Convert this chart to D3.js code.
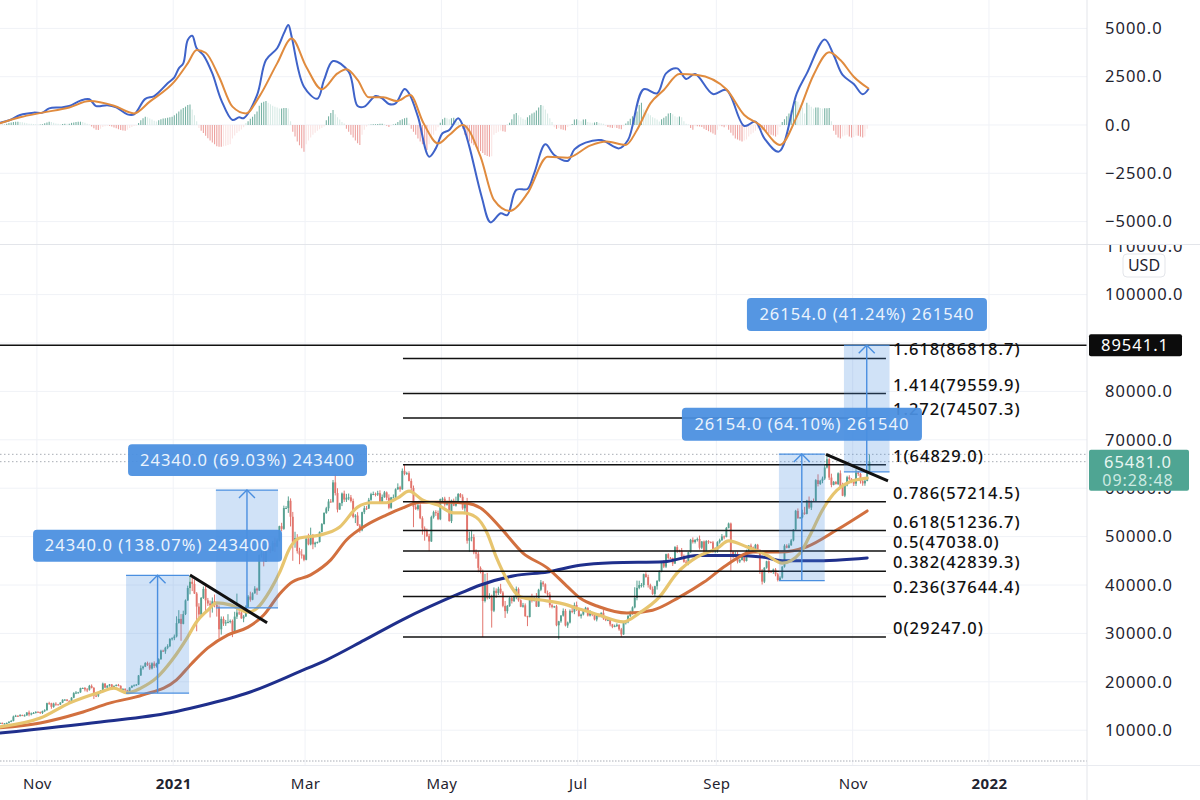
<![CDATA[<!DOCTYPE html>
<html lang="en">
<head>
<meta charset="UTF-8">
<title>BTCUSD daily with MACD and Fibonacci levels</title>
<script src="https://d3js.org/d3.v7.min.js"></script>
<style>
    html, body { margin: 0; padding: 0; background: #fff; }
    svg { display: block; }
    text { font-family: "Noto Sans", sans-serif; }
    .axis text { font-size: 16.5px; letter-spacing: 1px; fill: #1f2430; }
    .axis .domain { display: none; }
    .grid line { stroke: #f0f2f7; stroke-width: 1; }
</style>
</head>
<body>
<svg id="chart" width="1200" height="800"></svg>
<script>
// daily closes in thousand USD, first value is 15 Oct 2020, one line per month
const closeK = [
  11.5,11.32,11.37,11.5,11.75,11.92,12.82,12.98,12.93,13.12,13.03,13.07,13.65,13.27,13.46,13.56,13.8,
  13.76,13.55,13.95,14.13,15.58,15.57,14.83,15.48,15.33,15.3,15.7,16.29,16.32,16.07,15.96,16.72,17.66,17.78,17.82,18.68,18.72,18.42,18.37,19.16,18.73,17.15,17.14,17.72,18.18,19.63,
  18.8,19.2,19.45,18.7,19.15,19.36,19.17,18.32,18.55,18.25,18.04,18.8,19.17,19.27,19.43,21.31,22.8,23.14,23.87,23.48,22.75,23.82,23.24,23.73,24.66,26.44,26.28,27.04,27.36,28.84,29.0,
  29.37,32.13,33.0,31.97,33.99,36.82,39.37,40.67,40.24,38.24,35.54,33.92,37.32,39.19,36.83,36.18,35.79,36.63,35.89,35.47,30.85,33.0,32.05,32.28,32.37,32.57,30.43,33.47,34.32,34.3,33.11,
  33.51,35.5,37.62,36.95,38.29,39.26,38.87,46.2,46.48,44.85,47.97,47.5,47.1,48.7,47.94,49.2,52.15,51.6,55.9,55.9,57.4,54.1,48.9,49.7,47.0,46.3,46.15,45.2,
  49.6,48.4,50.35,48.4,48.75,48.88,50.97,52.6,54.9,55.85,57.25,57.2,61.2,59.0,55.6,56.9,58.9,57.65,58.03,58.1,57.35,54.1,54.34,52.3,51.3,55.05,55.85,55.8,57.6,58.76,58.8,
  58.7,58.97,57.06,58.2,59.13,58.03,55.95,58.1,58.1,59.77,60.2,59.77,63.58,62.97,63.1,61.5,60.05,56.15,55.7,56.47,53.8,51.7,51.15,50.1,49.0,54.02,55.05,54.88,53.6,57.75,
  57.83,56.6,57.2,53.2,57.45,56.4,57.36,58.8,58.23,55.85,56.7,49.15,49.72,49.88,46.76,46.45,43.54,42.9,36.7,40.5,37.3,37.5,34.7,38.8,38.33,39.24,38.44,35.7,34.6,35.68,37.3,
  36.68,37.56,39.19,36.85,35.52,35.8,33.55,33.4,37.39,36.69,37.34,35.55,39.02,40.52,40.14,38.35,38.05,35.82,35.48,35.6,31.68,32.5,33.68,34.66,31.64,32.24,34.65,34.47,35.87,35.04,
  33.57,33.9,34.68,35.29,33.69,34.22,33.86,32.88,33.82,33.51,34.26,33.09,32.73,32.82,31.87,31.38,31.52,31.78,30.84,29.79,32.14,32.31,33.58,34.29,35.38,37.34,39.41,39.99,40.0,42.24,41.63,
  39.97,39.2,38.15,39.75,40.87,42.84,44.61,43.8,46.37,45.59,45.56,44.43,47.83,47.1,47.05,46.0,44.8,44.6,46.77,49.33,48.87,49.29,49.51,47.71,48.99,46.85,49.07,48.9,48.81,47.05,47.16,
  48.85,49.28,50.03,49.94,51.79,52.7,46.86,46.07,46.4,44.85,45.16,46.06,44.96,47.1,48.15,47.75,47.3,48.3,47.26,43.0,40.7,43.57,44.9,42.84,42.7,43.2,42.2,41.03,41.52,43.79,
  48.12,47.68,48.2,49.22,51.47,55.32,53.8,53.97,54.96,54.69,57.48,56.0,57.37,57.35,61.67,60.87,61.53,62.0,64.28,66.0,62.2,60.69,61.3,60.85,63.08,60.33,58.46,60.59,62.27,61.89,61.34,
  60.95,63.23,62.95,61.45,61.0,61.53,63.3,65.48
];
const firstOpenK = 11.43;

// wick above the body, thousand USD
const upperWickK = [
  .1,.1,.1,.1,.1,.2,.2,.2,.1,.2,.1,.2,.1,.4,.2,.2,.1,
  .1,.1,.1,.2,.1,.3,.1,.2,.3,.1,.1,.1,.1,.1,.1,.1,.2,.3,.1,.1,.1,.2,.3,.2,.3,.2,.2,.1,.1,.2,
  .1,.1,.1,.1,.1,.1,.2,.1,.1,.1,.1,.1,.1,.2,.1,.1,.6,.2,.2,.3,.5,.2,.4,.2,.2,.2,.2,.2,.4,.2,.2,
  .4,1.4,1.8,1.0,.7,.2,.5,1.2,.8,.9,.3,.7,.2,.5,.9,.5,.6,.8,1.4,.5,.3,.5,.5,.5,1.6,.3,.3,1.0,3.9,.6,.5,
  .3,.3,.3,1.0,.2,.5,.2,.1,.5,.6,.2,.5,.5,.4,1.1,.4,.1,.7,.5,.4,.9,.5,1.0,1.3,.8,.7,1.1,.2,
  .1,1.0,1.5,.2,.2,.1,.1,.2,.1,.3,.5,.5,.5,1.7,1.0,.1,.2,.6,.8,.8,.5,.5,.3,.7,.3,.1,.5,.5,.4,.3,.5,
  .3,.5,.6,.5,.3,.2,.7,.1,.6,.2,.8,.3,.5,1.25,.3,.4,.5,.5,1.0,.5,.6,.4,.4,.5,.5,.3,.3,.4,.5,.1,
  .3,.4,.2,1.0,.2,.4,.9,.2,.2,.5,.1,1.3,1.3,1.5,.6,.6,.5,.3,.3,1.8,2.0,.8,.5,.7,.5,.4,1.0,.3,1.0,.2,.4,
  .3,.3,.5,.3,.2,.5,.4,.1,.2,.8,.2,1.0,.2,.5,.3,.2,.5,.5,.3,.1,.3,.1,.1,.5,.4,.2,.3,.6,.5,.7,
  .1,.2,.2,.2,.1,.6,.2,.2,.2,.3,.1,.6,.1,.3,.1,.1,.3,.3,.1,.3,.1,.3,.2,.4,.2,2.2,1.5,.9,.4,.1,.4,
  .5,.3,.5,.1,.1,.2,.2,.5,.1,.2,.2,.1,.2,.4,.2,.6,.3,.4,.1,.2,.5,.2,.3,.7,.1,.2,.2,.2,.1,.3,.6,
  .2,.3,.5,.2,.2,.2,.2,.2,.5,.5,.3,.2,.2,.2,.1,.4,.2,.2,.2,.1,.3,.1,.1,.2,.2,.2,.3,.3,.3,.1,
  .3,.3,.4,.3,.1,.2,.5,.1,.6,1.2,.1,.8,.1,.5,.2,1.2,.2,.4,.7,1.0,.2,.8,.2,.2,.2,.6,.8,.3,.3,.4,.2,
  .3,.7,.3,.2,.6,.2,.2,1.5
];
// wick below the body, thousand USD
const lowerWickK = [
  .1,.1,.1,.1,.1,.1,.1,.1,.2,.1,.1,.2,.1,.4,.2,.1,.1,
  .1,.2,.2,.2,.1,.3,.4,.2,.3,.1,.1,.1,.2,.1,.2,.1,.1,.2,.2,.1,.1,.4,.5,.2,.1,.7,.3,.3,.1,.1,
  .1,.1,.2,.1,.1,.1,.1,.1,.1,.2,.5,.1,.1,.1,.1,.1,.1,.3,.1,.2,.3,.2,.4,.3,.1,.1,.1,.5,.3,.2,.3,
  .4,.2,.1,3.5,.1,.2,.1,1.3,1.5,.1,5.1,1.2,.4,.2,2.2,.5,2.5,1.5,.5,2.0,1.9,1.1,.5,.5,.2,.3,1.2,.4,.5,.5,.1,
  .8,.1,.2,.4,.1,.1,.9,.1,.5,1.0,.1,.2,.5,.1,1.1,.1,.2,.5,.2,.2,1.0,2.0,3.9,1.2,.5,2.0,.7,.3,
  .1,.2,.2,1.0,.6,.2,.1,.1,.1,.2,.6,.2,.2,.5,.6,.1,.6,.5,.5,.5,.3,.3,1.3,.1,.5,.2,.4,.3,.1,.2,.2,
  .4,.3,.2,.2,.2,.5,.3,.2,.1,.2,.1,.5,.1,.3,.2,.1,.5,4.2,.2,.3,.2,1.3,2.0,.2,2.0,.1,.3,.6,.2,.2,
  .7,.4,.2,.1,.4,.1,.2,.2,.2,.3,.8,.6,2.3,.7,.4,1.0,.9,.5,7.45,.3,.3,.2,3.5,.3,1.0,.4,.3,.3,1.4,.5,.2,
  .5,.2,.5,.3,.1,.2,.1,1.9,.1,.3,.1,.1,.1,.3,.5,.1,.5,.5,.3,.2,.2,2.9,.3,.2,.2,.5,.2,.3,.5,.4,
  .1,.5,.2,.2,.2,.2,.3,.2,.4,.2,.2,.3,.2,.2,.4,.3,.1,.2,.3,.5,.1,.3,.2,.2,.4,.2,.5,.3,.5,.5,.1,
  .5,.2,.2,.4,.7,.2,.2,.3,.3,.3,.2,.5,.1,.5,.3,.4,.2,.1,.5,.1,.3,.3,.3,.4,.3,.3,.2,.4,.2,.4,.5,
  .5,.3,.2,.5,.1,.1,3.9,.6,.3,.4,.3,.1,.3,.1,.2,.2,.2,.2,.3,.7,.6,.3,.2,.4,.2,.4,.4,.3,.2,.2,
  .2,.1,.1,.1,.2,.1,.1,.1,.2,.2,.1,.3,.5,.2,.1,.5,.2,.5,.3,.2,.5,.5,.1,.1,.2,.3,.1,.3,.2,.2,.3,
  .5,.5,.4,.5,.5,.5,.1,.1
];

// moving averages read off the picture: days since 15 Oct 2020, thousand USD
const fastMaDays = [0,18,31,45,51,57,63,70,77,84,88,93,97,103,111,115,121,125,130,134,143,152,160,166,173,178,183,189,196,203,207,213,218,222,227,233,242,252,259.5,268,279,286,295,303,312,321,326,334,343,350,358,362,368,374.5,380,388];
const fastMaK = [10.7,12.5,15.6,17.9,18.7,17.7,18.7,20.8,24.5,29.3,32.4,34.8,36.3,35.9,34.4,35.2,39.0,42.5,47.9,49.7,50.3,52.0,56.1,57.0,57.0,58.0,59.4,57.6,56.5,54.9,54.9,54.0,50.7,45.8,41.0,37.5,36.9,36.1,35.0,33.8,32.4,34.2,37.5,42.5,45.8,47.6,49.1,47.9,46.2,44.5,46.6,49.9,55.5,59.6,61.3,62.1];
const midMaDays = [0,18,36,49,64,79,86,93,102,111,118,125,130,139,148,155,164,173,180,188,200,209,215,224,234,245,254,259.5,268,280.5,292,304,315,325,337,349,361,374.5,388];
const midMaK = [10.5,11.5,13.6,15.6,17.3,20.4,23.9,27.0,29.7,31.3,33.8,38.1,40.4,42.1,45.2,49.3,52.4,54.5,55.9,57.1,57.1,56.9,55.9,51.8,46.6,43.5,39.6,37.3,35.5,34.2,34.8,37.5,40.6,44.1,46.8,46.8,47.9,51.4,55.3];
const slowMaDays = [0,45,76,89.5,112,134,146,163,180,206,215,230,245,259.5,274,297,312,327,341,350,364,388];
const slowMaK = [9.4,11.7,13.6,15.0,17.9,22.1,24.5,28.6,32.8,38.3,40.0,41.9,42.7,44.1,44.6,44.8,46.1,46.1,45.8,45.0,45.0,45.6];

// MACD pane
const macdDays = [0,4.5,9,15,19,22,27,31,36,40,43,48,52,57,60,65,69,75,78,80,82,84,86,88,91,95,99,104,107,109,115,119,124,127,129,130.5,136,142,145,149,156,160,163,168,171,174,177,181,183,187,192,195,198,201,205,207,210,215.5,219.5,224,227,231,236,239,244,248,254,257,262,269,277,281,288,294,298,303,307,311,319,325,333,338,342,348.5,356.5,361,369,373,377,382,386,388.5];
const macdLine = [120,260,520,640,640,860,910,980,1260,1330,980,1020,910,550,550,1350,1500,2160,2470,2930,3190,4400,4620,3970,3620,2670,1290,260,400,350,1550,3360,3970,4740,5180,4570,1980,1360,2330,3310,2760,980,950,1500,1380,1090,1120,1860,1640,430,-1640,-1210,-430,-260,350,0,-1120,-3710,-5040,-4570,-4660,-3360,-3310,-2500,-1000,-1550,-1860,-1260,-910,-780,-1210,-780,1850,1640,2670,2930,2380,2640,1600,1810,-50,170,-690,-1380,1640,2670,4430,3620,2590,2120,1590,1850];
const signalDays = [0,9,19,31,40,51,60,67,78,84,88,92,98,104,110,116,124,130.5,137,144,151,155,160,165,171.5,177.5,183.5,189.5,196,201,207,215,221,228,236,245,254,264,271.4,280,285,291,297,304,312,325,333,340,349,356.5,364,371,376,382,388.5];
const signalLine = [90,400,640,910,1240,1000,600,1210,2240,3190,3880,3740,2500,950,600,1470,3190,4480,3020,1850,2670,2880,2330,1430,1430,1240,1550,90,-950,-520,0,-1640,-3880,-4450,-3540,-1640,-1690,-1070,-860,-1030,-260,1120,1810,2640,2590,1850,520,0,-1030,430,2590,3760,3360,2500,1900];
const histogram = [
  0,10,20, 60,100,130,150,170,170,160,140,110,90, 70,60,50,40,30,30, 40,90,130,170,150,120, 80,60,40,50,70,60,
  70,110,130,150,170,170,150,110, 60,20, -80,-170,-240,-260,-200, -110,-60,-40,-40,
  -80,-130,-170,-220,-260,-280,-300, -250,-160,-100,-50,-20, 100,250,350,430, 400,340,280,220,180,
  250,300,340,350,380,400,430, 500,600,700,800,880,950,1030,1060, 800,500,200,
  -150,-300,-420,-560,-680,-800,-900,-1000,-1100,-1120, -1130,-1100,-1080,-1040,-1000, -700,-550,-420,-320,-230,-120,
  100,200,320,430,560,700, 1000,1150,1200,1240, 1150,1080,1000,950,900,860,860,880,880,860, 200,
  -350,-600,-850,-1050,-1200,-1380, -1000,-800,-650,-500,-400,-300,-220,-150,-80,
  250,450,620,780, 550,400,280,160,80, -200,-350,-500,-650,-800,-950,-1030, -500,-250,-80,
  20,20,40,40, 50,60,60,40,-40,-100,-30, 30,60, 150,250,300,350,370, 80,
  -200,-350,-500,-700,-850,-1000,-1150,-1290, -1000,-700,-500,-300,-120, 120,300,380,350,
  300,350,380,300,150, 20, -200,-500,-700,-850,-950,-1050,-1150,-1250,-1350,-1450,-1550,-1600,-1640,-1620,
  -500,-420,-350,-280,-320,-350, 50,120,300,550,620, 500,400,320,270,
  400,500,600,650,750,900,1030,1000, 800,600,350,150, -120,-200,-150,-220,-250,-280, -100,-30,50,
  280,300,250,200,280,300, 150,130,120,130,160,120,90,60, -50,-100,-130,-160,-130,-150,-200,-220,-60,
  80,200,320,450,580,700,1030,1150, 800,700,600,500,400,350,280,180, 300,380,450,600,620,550, 450,400,440,400,
  200,60,20, -150,-250,-60, -60,-80,-100,-200,-260,-320,-380,-440,-500,-250, -60,-60,-120,-80,
  -250,-400,-550,-700,-750,-800,-850,-800,-750, -600,-480,-400,-300,-180, -50,
  -250,-300,-350,-450,-500,-550,-600,-500,-100, 150,300,450,600,750,950,1240, 1200,1050,900,600,
  1150,1050,950,850,900,900,880,850,870,870,880, 200,
  -300,-500,-650,-700,-600,-550,-500,-600,-650,-620,-550,-560,-600,-650,-600,-200
];

// axis ticks
const priceTicks = [10000,20000,30000,40000,50000,60000,70000,80000,100000,110000];
const priceGridTicks = [10000,20000,30000,40000,50000,60000,70000,80000,90000,100000];
const macdTicks = [5000,2500,0,-2500,-5000];
const monthTicks = ["2020-11-01","2021-01-01","2021-03-01","2021-05-01","2021-07-01","2021-09-01","2021-11-01","2022-01-01"];

// fibonacci retracement
const fibRatios = ["0","0.236","0.382","0.5","0.618","0.786","1","1.272","1.414","1.618"];
const fibPrices = [29247.0,37644.4,42839.3,47038.0,51236.7,57214.5,64829.0,74507.3,79559.9,86818.7];
const fibDays = [180.3, 396.4];

// measure tools: day range, price range
const measureDayFrom = [56.4, 96.6, 348.5, 377.6];
const measureDayTo = [84.6, 124.4, 369, 398];
const measureLow = [17662, 35270, 40900, 63390];
const measureHigh = [42002, 59610, 67060, 89540];
const measureText = ["24340.0 (138.07%) 243400","24340.0 (69.03%) 243400","26154.0 (64.10%) 261540","26154.0 (41.24%) 261540"];
const labelDayFrom = [14.8, 57.3, 305.1, 334.2];
const labelDayTo = [126.2, 164.2, 412.5, 441.6];
const labelTop = [51400, 69100, 76600, 99300];
const labelBottom = [44800, 62500, 69800, 92500];

// trend lines: day, price
const trendDays = [[85, 119.5], [369.6, 397.3]];
const trendPrices = [[42050, 32200], [67000, 61500]];

const targetPrice = 89541.1;
const lastPrice = 65481.0;
const countdown = "09:28:48";
const dottedPrices = [67000, 65481];

const plotRight = 1087;
const pxPerDay = 2.235;
const startMs = Date.UTC(2020, 9, 15, 12);
const dayToDate = d => new Date(startMs + d * 864e5);

const x = d3.scaleUtc()
    .domain([dayToDate(0), dayToDate(plotRight / pxPerDay)])
    .range([0, plotRight]);
const xDay = d => x(dayToDate(d));

const yPrice = d3.scaleLinear().domain([2810, 110250]).range([765, 245]);
const yMacd = d3.scaleLinear().domain([-6160, 6470]).range([244, 0]);

const svg = d3.select("#chart");
const defs = svg.append("defs");
defs.append("clipPath").attr("id", "priceAxisClip")
    .append("rect").attr("x", plotRight).attr("y", 245).attr("width", 113).attr("height", 520);

// grid
const grid = svg.append("g").attr("class", "grid");
grid.selectAll(".v").data(monthTicks).enter().append("line")
    .attr("x1", d => x(new Date(d))).attr("x2", d => x(new Date(d)))
    .attr("y1", 0).attr("y2", 765);
grid.selectAll(".hp").data(priceGridTicks).enter().append("line")
    .attr("x1", 0).attr("x2", plotRight)
    .attr("y1", d => yPrice(d)).attr("y2", d => yPrice(d));
grid.selectAll(".hm").data(macdTicks).enter().append("line")
    .attr("x1", 0).attr("x2", plotRight)
    .attr("y1", d => yMacd(d)).attr("y2", d => yMacd(d));

// dotted price lines
svg.selectAll(".dotted").data(dottedPrices).enter().append("line")
    .attr("x1", 0).attr("x2", plotRight)
    .attr("y1", d => yPrice(d)).attr("y2", d => yPrice(d))
    .attr("stroke", "#a9adb5").attr("stroke-width", 1).attr("stroke-dasharray", "1.5 2.5");
svg.append("line").attr("x1", 0).attr("x2", plotRight).attr("y1", 761).attr("y2", 761)
    .attr("stroke", "#a9adb5").attr("stroke-width", 1).attr("stroke-dasharray", "1.5 1.5");

// histogram
const histGreen = "#78b3a4", histGreenLight = "#d8ebe6", histRed = "#eda3a0", histRedLight = "#fae4e3";
svg.append("g").selectAll("line").data(histogram).enter().append("line")
    .attr("x1", (d, i) => xDay(i)).attr("x2", (d, i) => xDay(i))
    .attr("y1", yMacd(0)).attr("y2", d => yMacd(d))
    .attr("stroke-width", 1.1)
    .attr("stroke", (d, i) => {
        const growing = Math.abs(d) >= Math.abs(i ? histogram[i - 1] : 0);
        if (d >= 0) return growing ? histGreen : histGreenLight;
        return growing ? histRed : histRedLight;
    });

// macd lines
function drawLine(days, values, y, color, width, scale, curve) {
    const line = d3.line()
        .x(d => xDay(d[0]))
        .y(d => y(d[1] * scale))
        .curve(curve);
    svg.append("path")
        .attr("d", line(days.map((d, i) => [d, values[i]])))
        .attr("fill", "none").attr("stroke", color).attr("stroke-width", width)
        .attr("stroke-linejoin", "round").attr("stroke-linecap", "round");
}
drawLine(macdDays, macdLine, yMacd, "#3f63c9", 2, 1, d3.curveCatmullRom.alpha(0.5));
drawLine(signalDays, signalLine, yMacd, "#e08b3e", 2, 1, d3.curveMonotoneX);

// candles
const candleUp = "#56a090", candleDown = "#e2756d";
const candles = closeK.map((c, i) => {
    const o = i ? closeK[i - 1] : firstOpenK;
    return {
        i, o, c,
        h: Math.max(o, c) + upperWickK[i],
        l: Math.min(o, c) - lowerWickK[i]
    };
});
const candle = svg.append("g").selectAll("g").data(candles).enter().append("g")
    .attr("stroke", d => d.c >= d.o ? candleUp : candleDown)
    .attr("fill", d => d.c >= d.o ? candleUp : candleDown);
candle.append("line")
    .attr("x1", d => xDay(d.i)).attr("x2", d => xDay(d.i))
    .attr("y1", d => yPrice(d.h * 1000)).attr("y2", d => yPrice(d.l * 1000))
    .attr("stroke-width", 1);
candle.append("rect")
    .attr("x", d => xDay(d.i) - .95).attr("width", 1.9)
    .attr("y", d => yPrice(Math.max(d.o, d.c) * 1000))
    .attr("height", d => Math.max(1, Math.abs(yPrice(d.o * 1000) - yPrice(d.c * 1000))))
    .attr("stroke", "none");

// moving averages
drawLine(slowMaDays, slowMaK, yPrice, "#1f2f8c", 3, 1000, d3.curveMonotoneX);
drawLine(midMaDays, midMaK, yPrice, "#d2703f", 3, 1000, d3.curveMonotoneX);
drawLine(fastMaDays, fastMaK, yPrice, "#e7c56f", 3.2, 1000, d3.curveMonotoneX);

// fibonacci levels
svg.append("g").selectAll("line").data(fibPrices).enter().append("line")
    .attr("x1", xDay(fibDays[0])).attr("x2", xDay(fibDays[1]))
    .attr("y1", d => yPrice(d)).attr("y2", d => yPrice(d))
    .attr("stroke", "#111").attr("stroke-width", 1.5);
svg.append("g").selectAll("text").data(fibPrices).enter().append("text")
    .attr("x", xDay(fibDays[1]) + 7)
    .attr("y", d => yPrice(d) - 3)
    .attr("font-size", 16.5).attr("letter-spacing", 1).attr("font-weight", 500).attr("fill", "#111")
    .text((d, i) => `${fibRatios[i]}(${d.toFixed(1)})`);

// target line
svg.append("line").attr("x1", 0).attr("x2", plotRight)
    .attr("y1", yPrice(targetPrice)).attr("y2", yPrice(targetPrice))
    .attr("stroke", "#111").attr("stroke-width", 1.5);

// measure tools
const blue = "#4a8fe0";
measureText.forEach((label, i) => {
    const x0 = xDay(measureDayFrom[i]), x1 = xDay(measureDayTo[i]);
    const top = yPrice(measureHigh[i]), bottom = yPrice(measureLow[i]);
    const mid = (x0 + x1) / 2;
    const g = svg.append("g");
    g.append("rect").attr("x", x0).attr("y", top).attr("width", x1 - x0).attr("height", bottom - top)
        .attr("fill", blue).attr("opacity", .26);
    g.append("line").attr("x1", x0).attr("x2", x1).attr("y1", top).attr("y2", top)
        .attr("stroke", blue).attr("stroke-width", 1.2);
    g.append("line").attr("x1", x0).attr("x2", x1).attr("y1", bottom).attr("y2", bottom)
        .attr("stroke", blue).attr("stroke-width", 1.2);
    g.append("line").attr("x1", mid).attr("x2", mid).attr("y1", top).attr("y2", bottom)
        .attr("stroke", blue).attr("stroke-width", 1.4);
    g.append("path").attr("d", `M${mid - 8},${top + 8}L${mid},${top}L${mid + 8},${top + 8}`)
        .attr("fill", "none").attr("stroke", blue).attr("stroke-width", 1.4);
});

// trend lines
trendDays.forEach((days, i) => {
    svg.append("line")
        .attr("x1", xDay(days[0])).attr("x2", xDay(days[1]))
        .attr("y1", yPrice(trendPrices[i][0])).attr("y2", yPrice(trendPrices[i][1]))
        .attr("stroke", "#111").attr("stroke-width", 3);
});

// measure labels go over everything else in the plot
measureText.forEach((label, i) => {
    const x0 = xDay(labelDayFrom[i]), x1 = xDay(labelDayTo[i]);
    const top = yPrice(labelTop[i]), bottom = yPrice(labelBottom[i]);
    svg.append("rect").attr("x", x0).attr("y", top).attr("width", x1 - x0).attr("height", bottom - top)
        .attr("rx", 4).attr("fill", blue).attr("opacity", .94);
    svg.append("text").attr("x", (x0 + x1) / 2).attr("y", (top + bottom) / 2 + 5.5)
        .attr("text-anchor", "middle").attr("fill", "#eaf3fd")
        .attr("font-size", 16.5).attr("letter-spacing", 1)
        .text(label);
});

// right side and bottom borders
svg.append("rect").attr("x", plotRight).attr("y", 0).attr("width", 113).attr("height", 800).attr("fill", "#fff");
svg.append("line").attr("x1", plotRight).attr("x2", plotRight).attr("y1", 0).attr("y2", 800).attr("stroke", "#e3e5ea");
svg.append("line").attr("x1", 0).attr("x2", 1200).attr("y1", 244.5).attr("y2", 244.5).attr("stroke", "#e3e5ea");
svg.append("line").attr("x1", 0).attr("x2", 1200).attr("y1", 765.5).attr("y2", 765.5).attr("stroke", "#e9ebf0");

// axes
svg.append("g").attr("class", "axis")
    .attr("transform", `translate(${plotRight},0)`)
    .call(d3.axisRight(yMacd).tickValues(macdTicks).tickSize(0).tickPadding(18)
        .tickFormat(d => d3.format(".1f")(d).replace("-", "\u2212")));
svg.append("g").attr("class", "axis")
    .attr("clip-path", "url(#priceAxisClip)")
    .append("g")
    .attr("transform", `translate(${plotRight},0)`)
    .call(d3.axisRight(yPrice).tickValues(priceTicks).tickSize(0).tickPadding(18)
        .tickFormat(d => d3.format(".1f")(d)));
const xAxis = svg.append("g").attr("class", "axis")
    .attr("transform", "translate(0,772)")
    .call(d3.axisBottom(x).tickValues(monthTicks.map(d => new Date(d))).tickSize(0).tickPadding(6)
        .tickFormat(d => d.getUTCMonth() === 0 ? d.getUTCFullYear() : d3.utcFormat("%b")(d)));
xAxis.selectAll("text").attr("font-weight", d => d.getUTCMonth() === 0 ? 700 : 400)
    .style("font-size", "15px").style("letter-spacing", "0.4px");

// USD badge
svg.append("rect").attr("x", 1123).attr("y", 254).attr("width", 42).attr("height", 23)
    .attr("rx", 4).attr("fill", "#fff").attr("stroke", "#e3e5ea");
svg.append("text").attr("x", 1144).attr("y", 271).attr("text-anchor", "middle")
    .attr("font-size", 16).attr("fill", "#1f2430").text("USD");

// price tags
const tagY = yPrice(targetPrice);
svg.append("rect").attr("x", 1089).attr("y", tagY - 11).attr("width", 93).attr("height", 22)
    .attr("rx", 2).attr("fill", "#0c0c0c");
svg.append("text").attr("x", 1135).attr("y", tagY + 5.5).attr("text-anchor", "middle")
    .attr("font-size", 16.5).attr("letter-spacing", 1).attr("fill", "#fff").text(targetPrice.toFixed(1));

// the last price tag hangs below the price it shows
const lastY = yPrice(lastPrice);
svg.append("rect").attr("x", 1089).attr("y", lastY - 12).attr("width", 100).attr("height", 41)
    .attr("rx", 2).attr("fill", "#4fa593");
svg.append("text").attr("x", 1138).attr("y", lastY + 6).attr("text-anchor", "middle")
    .attr("font-size", 16.5).attr("letter-spacing", 1).attr("fill", "#e8f5f1").text(lastPrice.toFixed(1));
svg.append("text").attr("x", 1138).attr("y", lastY + 24).attr("text-anchor", "middle")
    .attr("font-size", 16).attr("letter-spacing", 1).attr("fill", "#cdeae2").text(countdown);
</script>
</body>
</html>
]]>
